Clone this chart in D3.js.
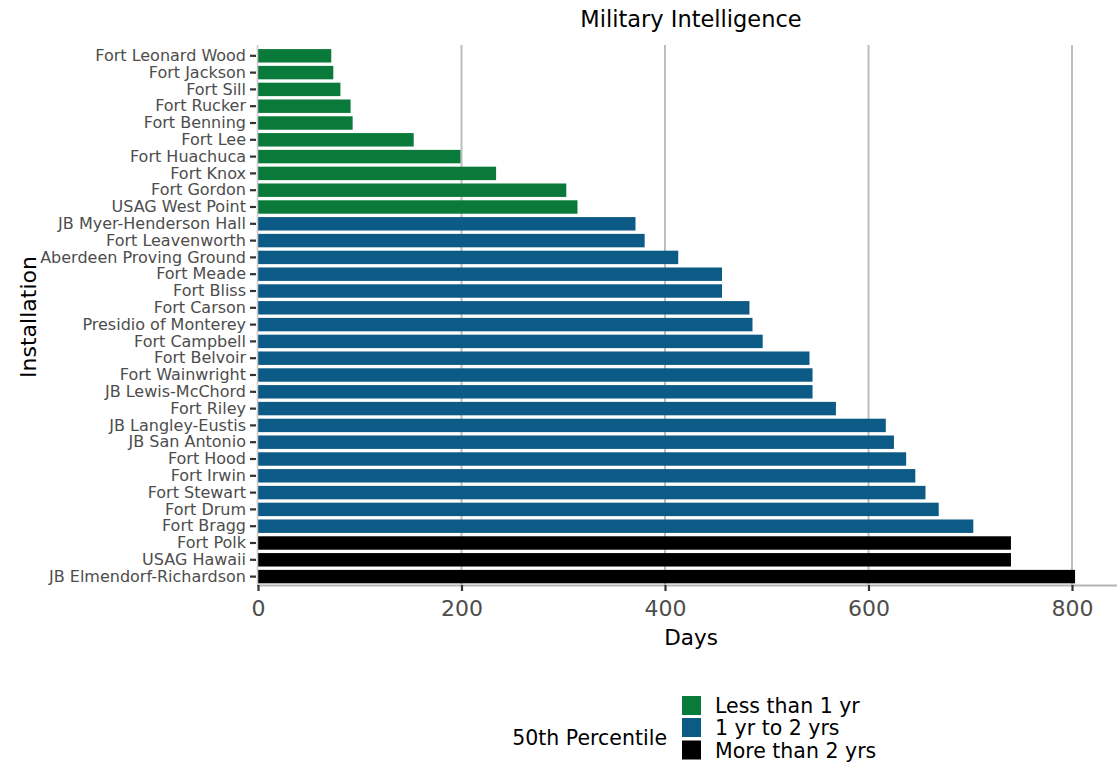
<!DOCTYPE html>
<html>
<head>
<meta charset="utf-8">
<script src="https://cdn.jsdelivr.net/npm/d3@7"></script>
<style>
  html, body { margin: 0; padding: 0; background: #fff; }
  svg { display: block; font-family: "DejaVu Sans", sans-serif; }
</style>
</head>
<body>
<svg id="chart" width="1117" height="765"></svg>
<script>
const chartTitle = "Military Intelligence";
const xTitle = "Days";
const yTitle = "Installation";
const legendTitle = "50th Percentile";

const installations = [
  "Fort Leonard Wood", "Fort Jackson", "Fort Sill", "Fort Rucker", "Fort Benning",
  "Fort Lee", "Fort Huachuca", "Fort Knox", "Fort Gordon", "USAG West Point",
  "JB Myer-Henderson Hall", "Fort Leavenworth", "Aberdeen Proving Ground", "Fort Meade", "Fort Bliss",
  "Fort Carson", "Presidio of Monterey", "Fort Campbell", "Fort Belvoir", "Fort Wainwright",
  "JB Lewis-McChord", "Fort Riley", "JB Langley-Eustis", "JB San Antonio", "Fort Hood",
  "Fort Irwin", "Fort Stewart", "Fort Drum", "Fort Bragg", "Fort Polk",
  "USAG Hawaii", "JB Elmendorf-Richardson"
];
const days = [
  72, 74, 81, 91, 93,
  153, 199, 234, 303, 314,
  371, 380, 413, 456, 456,
  483, 486, 496, 542, 545,
  545, 568, 617, 625, 637,
  646, 656, 669, 703, 740,
  740, 803
];
const tiers = [
  0,0,0,0,0, 0,0,0,0,0,
  1,1,1,1,1, 1,1,1,1,1,
  1,1,1,1,1, 1,1,1,1,2,
  2,2
];
const tierLabels = ["Less than 1 yr", "1 yr to 2 yrs", "More than 2 yrs"];
const tierColors = ["#0a7a3b", "#0c5a86", "#000000"];
const xTicks = [0, 200, 400, 600, 800];

const svg = d3.select("#chart");

const x = d3.scaleLinear().domain([0, 850]).range([258, 258 + 850 * 814 / 800]);
const y = d3.scaleBand().domain(installations).range([47.4, 585]).paddingInner(0.2).paddingOuter(0.1);
const color = d3.scaleOrdinal().domain([0, 1, 2]).range(tierColors);

const panelTop = 45, panelBottom = 585;

// gridlines
svg.append("g").selectAll("line")
  .data(xTicks.filter(d => d > 0))
  .join("line")
  .attr("x1", d => x(d)).attr("x2", d => x(d))
  .attr("y1", panelTop).attr("y2", panelBottom)
  .attr("stroke", "#bdbdbd").attr("stroke-width", 2);

// bars
svg.append("g").selectAll("rect")
  .data(installations.map((name, i) => ({ name, v: days[i], t: tiers[i] })))
  .join("rect")
  .attr("x", x(0))
  .attr("y", d => y(d.name))
  .attr("width", d => x(d.v) - x(0))
  .attr("height", y.bandwidth())
  .attr("fill", d => color(d.t));

// y axis line
svg.append("line")
  .attr("x1", x(0) - 0.5).attr("x2", x(0) - 0.5)
  .attr("y1", panelTop).attr("y2", panelBottom)
  .attr("stroke", "#c8c8c8").attr("stroke-width", 1.5);

// x axis line
svg.append("line")
  .attr("x1", x(0) - 1).attr("x2", 1117)
  .attr("y1", panelBottom + 0.5).attr("y2", panelBottom + 0.5)
  .attr("stroke", "#b5b5b5").attr("stroke-width", 2);

// y axis
const yAxis = svg.append("g")
  .attr("transform", `translate(${x(0) - 2},0)`)
  .call(d3.axisLeft(y).tickSize(6).tickPadding(4));
yAxis.select(".domain").remove();
yAxis.selectAll(".tick line").attr("stroke", "#333").attr("stroke-width", 2.2);
yAxis.selectAll(".tick text")
  .attr("fill", "#4d4d4d")
  .style("font-size", "16px")
  .style("font-family", "'DejaVu Sans', sans-serif");

// x axis
const xAxis = svg.append("g")
  .attr("transform", `translate(0,${panelBottom})`)
  .call(d3.axisBottom(x).tickValues(xTicks).tickSize(6).tickPadding(9).tickFormat(d3.format("d")));
xAxis.select(".domain").remove();
xAxis.selectAll(".tick line").attr("stroke", "#333").attr("stroke-width", 2.2);
xAxis.selectAll(".tick text")
  .attr("fill", "#4d4d4d")
  .style("font-size", "22px")
  .style("font-family", "'DejaVu Sans', sans-serif");

// titles
svg.append("text")
  .attr("x", 691).attr("y", 26.5)
  .attr("text-anchor", "middle")
  .style("font-size", "22.5px")
  .attr("fill", "#000")
  .text(chartTitle);

svg.append("text")
  .attr("x", 691).attr("y", 645)
  .attr("text-anchor", "middle")
  .style("font-size", "21.5px")
  .attr("fill", "#000")
  .text(xTitle);

svg.append("text")
  .attr("transform", "translate(36,317) rotate(-90)")
  .attr("text-anchor", "middle")
  .style("font-size", "22px")
  .attr("fill", "#000")
  .text(yTitle);

// legend
const legend = svg.append("g");
legend.append("text")
  .attr("x", 667).attr("y", 745)
  .attr("text-anchor", "end")
  .style("font-size", "20.5px")
  .attr("fill", "#000")
  .text(legendTitle);

const keyY = [696, 718, 740.5];
const keys = legend.selectAll("g.key")
  .data(tierLabels)
  .join("g").attr("class", "key");
keys.append("rect")
  .attr("x", 682).attr("y", (d, i) => keyY[i])
  .attr("width", 19).attr("height", 19)
  .attr("fill", (d, i) => tierColors[i]);
keys.append("text")
  .attr("x", 715).attr("y", (d, i) => keyY[i] + 17)
  .style("font-size", "20.5px")
  .attr("fill", "#000")
  .text(d => d);
</script>
</body>
</html>
